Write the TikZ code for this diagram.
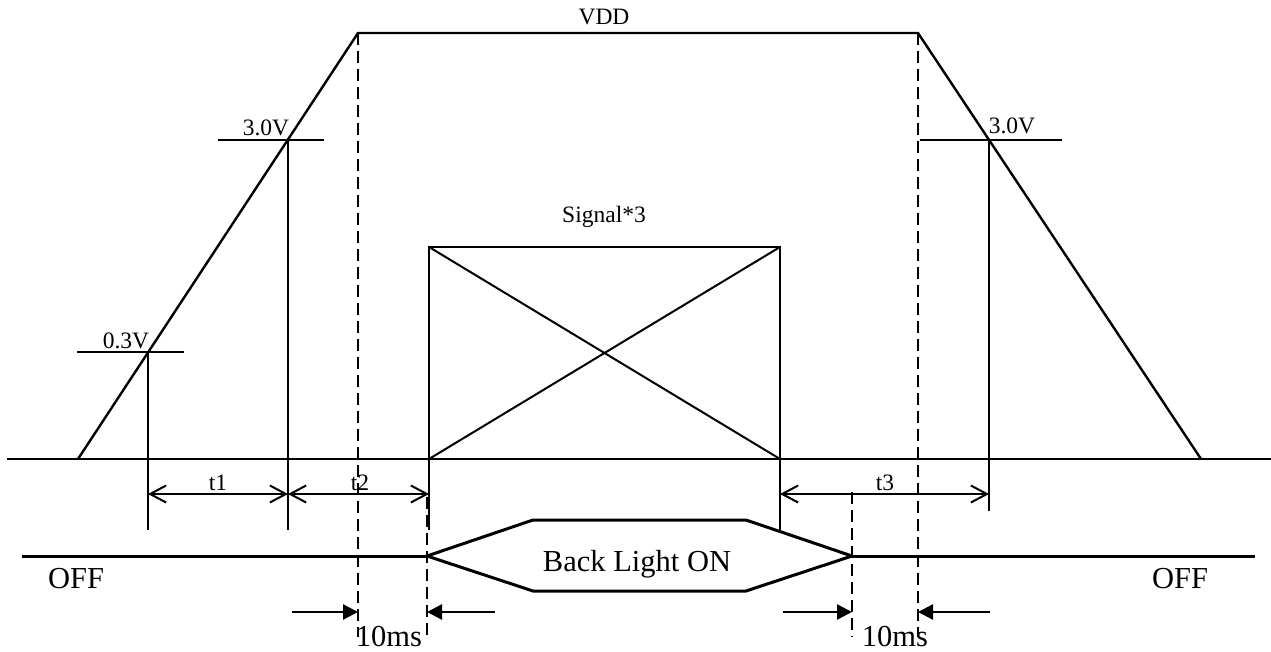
\documentclass[tikz,border=0pt]{standalone}
\usepackage{fontspec}
\setmainfont{Liberation Serif}
\usetikzlibrary{arrows.meta}

\tikzset{
  lbl/.style={anchor=base, inner sep=0pt, font=\fontsize{23.5}{28}\selectfont},
  biglbl/.style={lbl, font=\fontsize{30.5}{36}\selectfont},
  guide/.style={line width=2.6pt, dash pattern=on 12pt off 6pt},
  sigline/.style={line width=3pt},
  dim/.style={{Straight Barb[length=16pt,width=17pt]}-{Straight Barb[length=16pt,width=17pt]}},
  gap/.style={-{Triangle[length=15pt,width=15pt]}, line width=2.4pt},
}

\begin{document}
\begin{tikzpicture}[x=1pt, y=-1pt, line width=2pt]
	\def\yGND{459};
	\def\yVDD{33};
	\def\yDIM{494};
	\def\ySIG{556};
	\def\yGAP{612};

	\useasboundingbox (0,0) rectangle (1271,652);

	% supply ramp
	\coordinate (rise) at (78,\yGND);
	\coordinate (vddL) at (358,\yVDD);
	\coordinate (vddR) at (918,\yVDD);
	\coordinate (fall) at (1201,\yGND);
	\draw[line width=2.4pt] (rise) -- (vddL) -- (vddR) -- (fall);
	\node[lbl] (vdd) at (604,25) {VDD};

	% ground
	\coordinate (gndL) at (7,\yGND);
	\coordinate (gndR) at (1271,\yGND);
	\draw (gndL) -- (gndR);

	% thresholds
	\begin{scope}
		\coordinate (lo) at (148,352);
		\coordinate (hiL) at (288,140);
		\coordinate (hiR) at (989,140);
		\draw (77,352) -- (184,352);
		\draw (218,140) -- (324,140);
		\draw (920,140) -- (1062,140);
		\draw (lo) -- (148,530);
		\draw (hiL) -- (288,530);
		\draw (hiR) -- (989,511);
		\node[lbl] (v03) at (126,348) {0.3V};
		\node[lbl] (v30L) at (266,136) {3.0V};
		\node[lbl] (v30R) at (1012,134) {3.0V};
	\end{scope}

	% signal box
	\coordinate (sigTL) at (429,247);
	\coordinate (sigTR) at (780,247);
	\coordinate (sigBL) at (429,\yGND);
	\coordinate (sigBR) at (780,\yGND);
	\draw (sigTL) -- (sigTR) -- (sigBR) -- (sigBL) -- cycle;
	\draw (sigTL) -- (sigBR) (sigTR) -- (sigBL);
	\draw (sigBL) -- (429,530) (sigBR) -- (780,530);
	\node[lbl] (sig) at (604,223) {Signal*3};

	% timing intervals
	\draw[dim] (148,\yDIM) -- (288,\yDIM);
	\draw[dim] (288,\yDIM) -- (429,\yDIM);
	\draw[dim] (780,\yDIM) -- (989,\yDIM);
	\node[lbl] (t1) at (218,490) {t1};
	\node[lbl] (t2) at (360,490) {t2};
	\node[lbl] (t3) at (885,490) {t3};

	% back light
	\coordinate (blL) at (427,\ySIG);
	\coordinate (blR) at (852,\ySIG);
	\draw[sigline] (22,\ySIG) -- (blL);
	\draw[sigline] (blR) -- (1255,\ySIG);
	\draw[sigline] (blL) -- (533,520) -- (746,520) -- (blR) -- (746,591) -- (533,591) -- cycle;
	\node[biglbl] (bl) at (637,571) {Back Light ON};
	\node[biglbl] (offL) at (76,588) {OFF};
	\node[biglbl] (offR) at (1180,588) {OFF};

	% 10ms guides
	\draw[guide] (vddL) -- (358,637);
	\draw[guide] (vddR) -- (918,637);
	\draw[guide] (427,497) -- (427,637);
	\draw[guide] (852,492) -- (852,637);
	\draw[gap] (292,\yGAP) -- (358,\yGAP);
	\draw[gap] (495,\yGAP) -- (427,\yGAP);
	\draw[gap] (783,\yGAP) -- (852,\yGAP);
	\draw[gap] (990,\yGAP) -- (918,\yGAP);
	\node[biglbl] (msL) at (389,646) {10ms};
	\node[biglbl] (msR) at (895,646) {10ms};
\end{tikzpicture}
\end{document}
